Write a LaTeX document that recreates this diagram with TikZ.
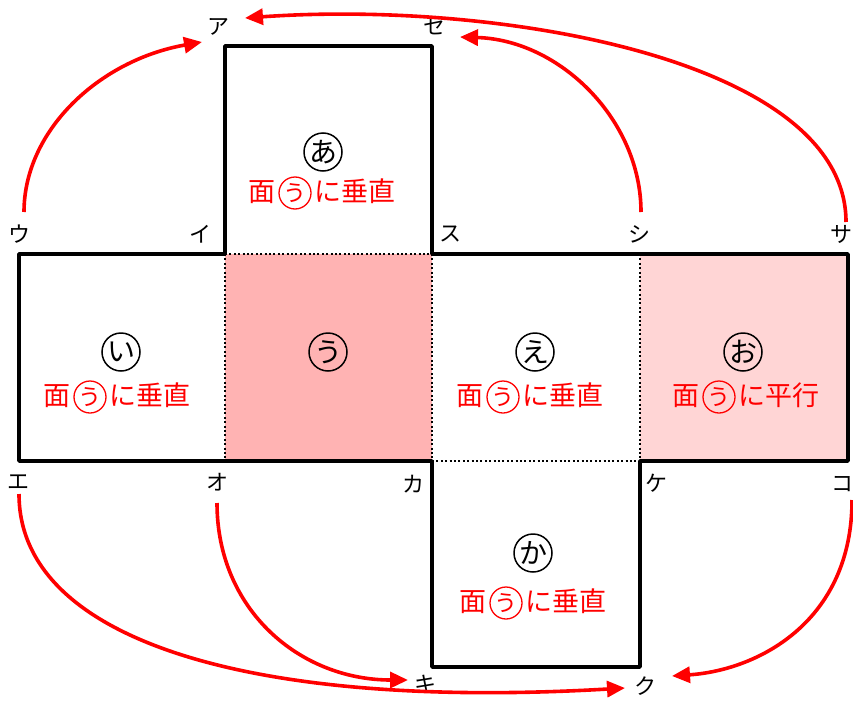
\documentclass[tikz,border=0pt]{standalone}
\usepackage{fontspec}
\setmainfont{Noto Sans CJK JP}
\usetikzlibrary{arrows.meta,calc}
\definecolor{pinkA}{RGB}{255,179,179}
\definecolor{pinkB}{RGB}{255,213,213}
\definecolor{myred}{RGB}{255,0,0}
\newcommand\maru[2]{\tikz[baseline=(mm.base)]\node[circle,draw=#2,text=#2,line width=1.3pt,inner sep=0pt,minimum size=32pt,font=\fontsize{23}{23}\selectfont](mm){#1};}
\tikzset{
  lab/.style={inner sep=1pt,font=\fontsize{22}{22}\selectfont},
  facelab/.style={circle,draw,line width=1.5pt,inner sep=0pt,minimum size=38pt,font=\fontsize{28}{28}\selectfont},
  redtext/.style={text=myred,inner sep=0pt,font=\fontsize{27}{27}\selectfont},
  outline/.style={line width=3.6pt,line join=round},
  fold/.style={line width=2.2pt,dash pattern=on 2pt off 2.4pt},
  redarrow/.style={draw=myred,line width=3.6pt,-{Triangle[length=18pt,width=16pt,fill=myred]}}
}
\begin{document}
\begin{tikzpicture}[x=1pt,y=-1pt]
\useasboundingbox (0,0) rectangle (853,704);
% fills
\fill[pinkA] (225,254) rectangle (432,461);
\fill[pinkB] (640,254) rectangle (848,461);
% fold lines
\draw[fold] (225,254) -- (432,254);
\draw[fold] (225,254) -- (225,461);
\draw[fold] (432,254) -- (432,461);
\draw[fold] (640,254) -- (640,461);
\draw[fold] (432,461) -- (640,461);
% outline
\draw[outline] (19,254) -- (225,254) -- (225,46) -- (432,46) -- (432,254) -- (848,254)
  -- (848,461) -- (640,461) -- (640,667) -- (432,667) -- (432,461) -- (19,461) -- cycle;
% vertex labels
\node[lab] (A)  at (218,27)  {ア};
\node[lab] (Se) at (434,26)  {セ};
\node[lab] (U)  at (20,234)  {ウ};
\node[lab] (I)  at (200,234) {イ};
\node[lab] (Su) at (450,234) {ス};
\node[lab] (Si) at (639,234) {シ};
\node[lab] (Sa) at (841,234) {サ};
\node[lab] (E)  at (19,482)  {エ};
\node[lab] (O)  at (217,482) {オ};
\node[lab] (Ka) at (413,484) {カ};
\node[lab] (Ke) at (656,483) {ケ};
\node[lab] (Ko) at (842,484) {コ};
\node[lab] (Ki) at (425,684) {キ};
\node[lab] (Ku) at (645,686) {ク};
% arrow end points next to the labels
\coordinate (U1)  at ($(U)+(4,-22)$);
\coordinate (A1)  at ($(A)+(-16,15)$);
\coordinate (Sa1) at ($(Sa)+(5,-12)$);
\coordinate (A2)  at ($(A)+(27,-9)$);
\coordinate (Si1) at ($(Si)+(2,-22)$);
\coordinate (Se1) at ($(Se)+(26,11)$);
\coordinate (E1)  at ($(E)+(0,12)$);
\coordinate (Ku1) at ($(Ku)+(-20,2)$);
\coordinate (O1)  at ($(O)+(0,21)$);
\coordinate (Ki1) at ($(Ki)+(-17,-4)$);
\coordinate (Ko1) at ($(Ko)+(10,16)$);
\coordinate (Ku2) at ($(Ku)+(27,-10)$);
% face labels
\node[facelab] (fa) at (323,152) {あ};
\node[redtext] (ta) at (322,193) {面\hspace{3pt}\maru{う}{myred}\hspace{3pt}に垂直};
\node[facelab] (fi) at (121,352) {い};
\node[redtext] (ti) at (117,397) {面\hspace{3pt}\maru{う}{myred}\hspace{3pt}に垂直};
\node[facelab] (fu) at (328,352) {う};
\node[facelab] (fe) at (535,352) {え};
\node[redtext] (te) at (530,397) {面\hspace{3pt}\maru{う}{myred}\hspace{3pt}に垂直};
\node[facelab] (fo) at (743,352) {お};
\node[redtext] (to) at (746,397) {面\hspace{3pt}\maru{う}{myred}\hspace{3pt}に平行};
\node[facelab] (fk) at (533,553) {か};
\node[redtext] (tk) at (533,603) {面\hspace{3pt}\maru{う}{myred}\hspace{3pt}に垂直};
% arrows
\draw[redarrow] (U1) .. controls (24,130) and (100,60) .. (A1);
\draw[redarrow] (Sa1) .. controls (846,60) and (500,0) .. (A2);
\draw[redarrow] (Si1) .. controls (641,120) and (560,40) .. (Se1);
\draw[redarrow] (E1) .. controls (19,640) and (250,710) .. (Ku1);
\draw[redarrow] (O1) .. controls (217,610) and (300,680) .. (Ki1);
\draw[redarrow] (Ko1) .. controls (852,620) and (760,670) .. (Ku2);
\end{tikzpicture}
\end{document}
